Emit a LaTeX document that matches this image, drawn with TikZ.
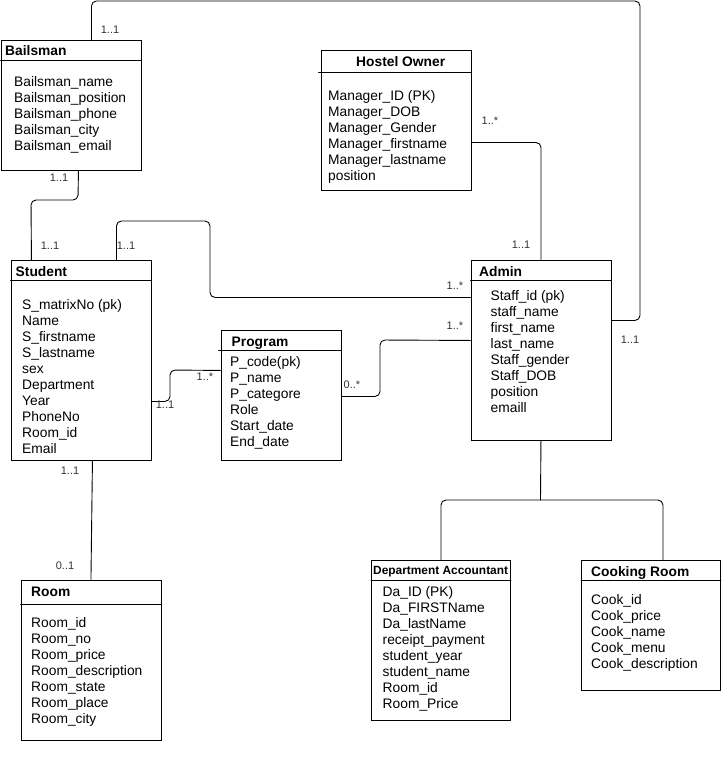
\documentclass[tikz,border=0pt]{standalone}
\usepackage{fontspec}
\setmainfont{Liberation Sans}
\usepackage{tikz}
\usetikzlibrary{calc}

\begin{document}
\begin{tikzpicture}[x=1pt, y=-1pt, line cap=round,
  entity/.style={draw, line width=0.9pt, inner sep=0pt, anchor=north west},
  title/.style={anchor=north west, inner sep=0pt, font=\fontsize{13.8}{16}\selectfont\bfseries},
  attr/.style={anchor=north west, inner sep=0pt, align=left, font=\fontsize{13.8}{16}\selectfont},
  link/.style={line width=0.9pt, rounded corners=5pt},
  mult/.style={inner sep=0pt, text=black!80, font=\fontsize{11}{13}\selectfont}]
\useasboundingbox (0,0) rectangle (723,758);
% Entities
\node[entity, minimum width=140, minimum height=130] (bailsman) at (0.5,40) {};
\node[entity, minimum width=150, minimum height=140] (hostel) at (320.5,50) {};
\node[entity, minimum width=140, minimum height=200] (student) at (10.5,260) {};
\node[entity, minimum width=120, minimum height=130] (program) at (220.5,330) {};
\node[entity, minimum width=140, minimum height=180] (admin) at (470.5,260) {};
\node[entity, minimum width=139, minimum height=160] (dept) at (371,560) {};
\node[entity, minimum width=139, minimum height=130] (cook) at (581,560) {};
\node[entity, minimum width=140, minimum height=160] (room) at (20.5,580) {};
% Header lines
\draw[line width=0.9pt] ([yshift=-20.5pt]bailsman.north west) -- ([yshift=-20.5pt]bailsman.north east);
\draw[line width=0.9pt] ([xshift=-2pt,yshift=-22pt]hostel.north west) -- ([yshift=-22pt]hostel.north east);
\draw[line width=0.9pt] ([yshift=-20pt]student.north west) -- ([yshift=-20pt]student.north east);
\draw[line width=0.9pt] ([xshift=-2pt,yshift=-20.5pt]program.north west) -- ([yshift=-20.5pt]program.north east);
\draw[line width=0.9pt] ([yshift=-20pt]admin.north west) -- ([yshift=-20pt]admin.north east);
\draw[line width=0.9pt] ([yshift=-20pt]dept.north west) -- ([yshift=-20pt]dept.north east);
\draw[line width=0.9pt] ([yshift=-20pt]cook.north west) -- ([yshift=-20pt]cook.north east);
\draw[line width=0.9pt] ([yshift=-24pt]room.north west) -- ([yshift=-24pt]room.north east);
% Titles
\node[title] (bailsmanT) at (5,45.5) {Bailsman};
\node[title] (hostelT) at (356,56) {Hostel Owner};
\node[title] (studentT) at (15.5,266) {Student};
\node[title] (programT) at (231.5,336.5) {Program};
\node[title] (adminT) at (479,266.5) {Admin};
\node[title, font=\fontsize{11.9}{14}\selectfont\bfseries] (deptT) at (373,566.5) {Department Accountant};
\node[title] (cookT) at (591,566) {Cooking Room};
\node[title] (roomT) at (31,586.5) {Room};
% Attributes
\node[attr] (bailsmanA) at (14,76) {Bailsman\_name\\Bailsman\_position\\Bailsman\_phone\\Bailsman\_city\\Bailsman\_email};
\node[attr] (hostelA) at (328,90) {Manager\_ID (PK)\\Manager\_DOB\\Manager\_Gender\\Manager\_firstname\\Manager\_lastname\\position};
\node[attr] (studentA) at (22,299) {S\_matrixNo (pk)\\Name\\S\_firstname\\S\_lastname\\sex\\Department\\Year\\PhoneNo\\Room\_id\\Email};
\node[attr] (programA) at (230,356.5) {P\_code(pk)\\P\_name\\P\_categore\\Role\\Start\_date\\End\_date};
\node[attr] (adminA) at (490.5,290.5) {Staff\_id (pk)\\staff\_name\\first\_name\\last\_name\\Staff\_gender\\Staff\_DOB\\position\\emaill};
\node[attr] (deptA) at (382.5,586) {Da\_ID (PK)\\Da\_FIRSTName\\Da\_lastName\\receipt\_payment\\student\_year\\student\_name\\Room\_id\\Room\_Price};
\node[attr] (cookA) at (591,594) {Cook\_id\\Cook\_price\\Cook\_name\\Cook\_menu\\Cook\_description};
\node[attr] (roomA) at (31,617.5) {Room\_id\\Room\_no\\Room\_price\\Room\_description\\Room\_state\\Room\_place\\Room\_city};
% Connectors
\coordinate (split) at (540.5,500);
\draw[link] ([xshift=20.5pt]bailsman.north) |- (640,1) |- ([yshift=30pt]admin.east);
\draw[link] ([xshift=7.5pt]bailsman.south) -- (78,200) -- (31,200) -- ([xshift=-49.5pt]student.north);
\draw[link] ([xshift=35.5pt]student.north) |- (210,221) |- ([yshift=53pt]admin.west);
\draw[link] ([yshift=-41pt]student.east) -| (170,370) -- ([yshift=25pt]program.west);
\draw[link] ([yshift=-1pt]program.east) -| (380,340) -- ([yshift=10pt]admin.west);
\draw[link] ([yshift=-22pt]hostel.east) -| (admin.north);
\draw[link] (admin.south) -- (split);
\draw[link] (dept.north) |- (split) -| ([xshift=12pt]cook.north);
\draw[link] ([xshift=11.5pt]student.south) -- (room.north);
% Multiplicities
\node[mult] (m1) at (110,30) {1..1};
\node[mult] (m2) at (59,178) {1..1};
\node[mult] (m3) at (50,246) {1..1};
\node[mult] (m4) at (126,246) {1..1};
\node[mult] (m5) at (455,286) {1..*};
\node[mult] (m6) at (455,326) {1..*};
\node[mult] (m7) at (352,385) {0..*};
\node[mult] (m8) at (205,377) {1..*};
\node[mult] (m9) at (165,405) {1..1};
\node[mult] (m10) at (70,471) {1..1};
\node[mult] (m11) at (65,566) {0..1};
\node[mult] (m12) at (490,121) {1..*};
\node[mult] (m13) at (521,245) {1..1};
\node[mult] (m14) at (630,340) {1..1};
\end{tikzpicture}
\end{document}
